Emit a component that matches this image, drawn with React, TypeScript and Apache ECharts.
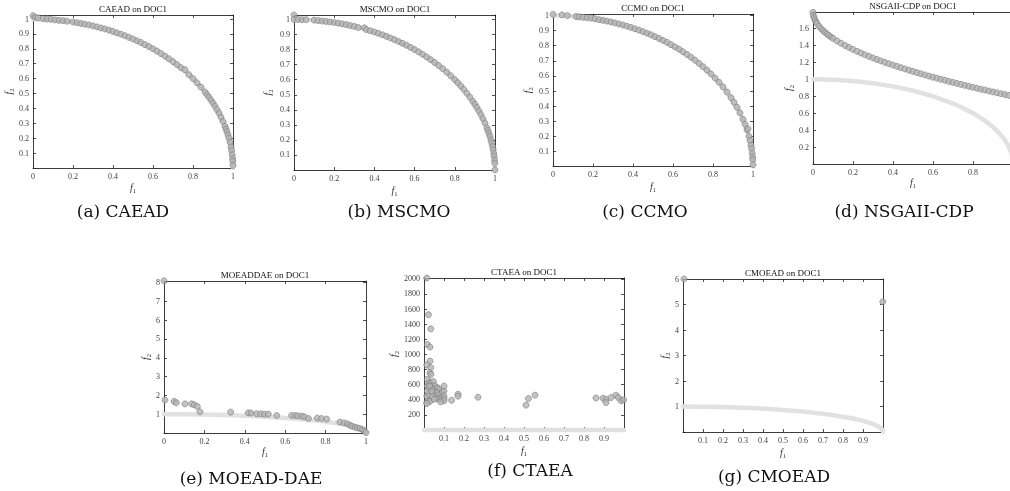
import React, { useEffect, useRef } from 'react';
import * as echarts from 'echarts';

// ---------- data ----------
const paretoFront: number[][] = [
  [0, 1], [0.1, 0.995], [0.2, 0.98], [0.3, 0.954], [0.4, 0.917], [0.5, 0.866], [0.6, 0.8],
  [0.7, 0.714], [0.75, 0.661], [0.8, 0.6], [0.85, 0.527], [0.9, 0.436], [0.93, 0.368],
  [0.95, 0.312], [0.97, 0.243], [0.98, 0.199], [0.99, 0.141], [0.995, 0.1], [0.998, 0.063], [1, 0]
];

const caeadPoints: number[][] = [
  [0, 1.022], [0.01, 1.012], [0.025, 1.008], [0.05, 1.002], [0.07, 1.0], [0.09, 0.998], [0.11, 0.994],
  [0.13, 0.991], [0.15, 0.989], [0.17, 0.985], [0.2, 0.98], [0.22, 0.975], [0.24, 0.97], [0.26, 0.965],
  [0.28, 0.96], [0.3, 0.954], [0.32, 0.947], [0.34, 0.94], [0.36, 0.933], [0.38, 0.925], [0.4, 0.917],
  [0.42, 0.907], [0.44, 0.898], [0.46, 0.888], [0.48, 0.877], [0.5, 0.866], [0.52, 0.854], [0.54, 0.842],
  [0.56, 0.828], [0.58, 0.815], [0.6, 0.8], [0.62, 0.785], [0.64, 0.768], [0.66, 0.751], [0.68, 0.733],
  [0.7, 0.714], [0.72, 0.694], [0.74, 0.673], [0.76, 0.66], [0.78, 0.626], [0.8, 0.6], [0.82, 0.572],
  [0.84, 0.543], [0.86, 0.51], [0.87, 0.493], [0.88, 0.475], [0.89, 0.456], [0.9, 0.436], [0.91, 0.415],
  [0.92, 0.392], [0.93, 0.368], [0.94, 0.341], [0.95, 0.312], [0.96, 0.28], [0.965, 0.262], [0.97, 0.243],
  [0.975, 0.222], [0.98, 0.199], [0.985, 0.173], [0.99, 0.141], [0.993, 0.118], [0.996, 0.089],
  [0.998, 0.063], [0.999, 0.045], [1, 0.018]
];

const mscmoPoints: number[][] = [
  [0, 1.03], [0, 1.0], [0.02, 1.0], [0.04, 0.999], [0.06, 0.999], [0.1, 0.996], [0.12, 0.993],
  [0.14, 0.99], [0.16, 0.987], [0.18, 0.984], [0.2, 0.98], [0.22, 0.976], [0.24, 0.971], [0.26, 0.966],
  [0.28, 0.96], [0.3, 0.954], [0.32, 0.947], [0.35, 0.945], [0.36, 0.933], [0.38, 0.925], [0.4, 0.917],
  [0.42, 0.908], [0.44, 0.898], [0.46, 0.888], [0.48, 0.877], [0.5, 0.866], [0.52, 0.854], [0.54, 0.842],
  [0.56, 0.829], [0.58, 0.815], [0.6, 0.8], [0.62, 0.785], [0.64, 0.769], [0.66, 0.751], [0.68, 0.733],
  [0.7, 0.714], [0.72, 0.694], [0.74, 0.673], [0.76, 0.65], [0.78, 0.626], [0.8, 0.6], [0.815, 0.58],
  [0.83, 0.558], [0.845, 0.535], [0.86, 0.51], [0.875, 0.484], [0.89, 0.456], [0.9, 0.436], [0.91, 0.415],
  [0.92, 0.392], [0.93, 0.368], [0.94, 0.341], [0.95, 0.312], [0.96, 0.28], [0.965, 0.262], [0.97, 0.243],
  [0.975, 0.222], [0.98, 0.199], [0.984, 0.178], [0.988, 0.155], [0.991, 0.134], [0.994, 0.11],
  [0.996, 0.09], [0.998, 0.065], [0.999, 0.045], [1, 0.0]
];

const ccmoPoints: number[][] = [
  [0, 1.007], [0.045, 1.004], [0.072, 1.0], [0.115, 0.993], [0.13, 0.991], [0.15, 0.988], [0.17, 0.985],
  [0.19, 0.982], [0.21, 0.978], [0.23, 0.973], [0.25, 0.968], [0.27, 0.963], [0.29, 0.957], [0.31, 0.951],
  [0.33, 0.944], [0.35, 0.937], [0.37, 0.929], [0.39, 0.921], [0.41, 0.912], [0.43, 0.903], [0.45, 0.893],
  [0.47, 0.883], [0.49, 0.872], [0.51, 0.86], [0.53, 0.848], [0.55, 0.835], [0.57, 0.822], [0.59, 0.807],
  [0.61, 0.792], [0.63, 0.777], [0.65, 0.76], [0.67, 0.742], [0.69, 0.724], [0.71, 0.704], [0.73, 0.683],
  [0.75, 0.661], [0.77, 0.638], [0.79, 0.613], [0.81, 0.586], [0.83, 0.558], [0.85, 0.527], [0.87, 0.493],
  [0.89, 0.456], [0.905, 0.425], [0.92, 0.392], [0.935, 0.355], [0.95, 0.312], [0.96, 0.28], [0.97, 0.243],
  [0.975, 0.25], [0.98, 0.2], [0.985, 0.173], [0.99, 0.141], [0.993, 0.118], [0.996, 0.089],
  [0.998, 0.063], [0.999, 0.045], [1, 0.013]
];

const nsgaiiCdpPoints: number[][] = [
  [0, 1.79], [0.002, 1.755], [0.005, 1.729], [0.01, 1.7], [0.015, 1.678], [0.02, 1.659], [0.03, 1.627],
  [0.04, 1.6], [0.05, 1.576], [0.06, 1.555], [0.07, 1.535], [0.08, 1.517], [0.09, 1.5], [0.1, 1.484],
  [0.12, 1.454], [0.14, 1.426], [0.16, 1.4], [0.18, 1.376], [0.2, 1.353], [0.22, 1.331], [0.24, 1.31],
  [0.26, 1.29], [0.28, 1.271], [0.3, 1.252], [0.32, 1.234], [0.34, 1.217], [0.36, 1.2], [0.38, 1.184],
  [0.4, 1.168], [0.42, 1.152], [0.44, 1.137], [0.46, 1.122], [0.48, 1.107], [0.5, 1.093], [0.52, 1.079],
  [0.54, 1.065], [0.56, 1.052], [0.58, 1.038], [0.6, 1.025], [0.62, 1.013], [0.64, 1.0], [0.66, 0.988],
  [0.68, 0.975], [0.7, 0.963], [0.72, 0.951], [0.74, 0.94], [0.76, 0.928], [0.78, 0.917], [0.8, 0.906],
  [0.82, 0.894], [0.84, 0.883], [0.86, 0.873], [0.88, 0.862], [0.9, 0.851], [0.92, 0.841], [0.94, 0.83],
  [0.96, 0.82], [0.98, 0.81]
];

const moeadDaePoints: number[][] = [
  [0, 8.09], [0.005, 1.75], [0.05, 1.68], [0.061, 1.61], [0.104, 1.55], [0.137, 1.55], [0.15, 1.5],
  [0.165, 1.41], [0.178, 1.13], [0.33, 1.11], [0.417, 1.07], [0.431, 1.06], [0.459, 1.02], [0.479, 1.02],
  [0.497, 1.0], [0.516, 1.0], [0.558, 0.93], [0.632, 0.93], [0.649, 0.93], [0.663, 0.91], [0.682, 0.9],
  [0.695, 0.86], [0.715, 0.77], [0.759, 0.79], [0.78, 0.77], [0.805, 0.74], [0.871, 0.58], [0.891, 0.54],
  [0.908, 0.49], [0.921, 0.41], [0.932, 0.36], [0.946, 0.31], [0.957, 0.27], [0.97, 0.24], [0.983, 0.18],
  [0.993, 0.11], [1, 0.02]
];

const ctaeaPoints: number[][] = [
  [0.014, 2009], [0.022, 1525], [0.034, 1337], [0.017, 1131], [0.03, 1096], [0.03, 912], [0.014, 860],
  [0.034, 825], [0.03, 758], [0.035, 735], [0.017, 670], [0.025, 626], [0.034, 620], [0.047, 640],
  [0.014, 364], [0.022, 386], [0.03, 378], [0.014, 451], [0.022, 473], [0.017, 516], [0.017, 582],
  [0.025, 560], [0.038, 582], [0.045, 551], [0.055, 582], [0.05, 538], [0.059, 516], [0.067, 560],
  [0.075, 538], [0.067, 495], [0.055, 451], [0.075, 465], [0.083, 428], [0.092, 407], [0.075, 407],
  [0.059, 415], [0.042, 441], [0.092, 505], [0.1, 516], [0.1, 582], [0.1, 451], [0.1, 415], [0.1, 386],
  [0.083, 372], [0.05, 407], [0.038, 516], [0.028, 582], [0.014, 350], [0.138, 393], [0.17, 473],
  [0.17, 447], [0.27, 433], [0.51, 328], [0.522, 415], [0.555, 460], [0.86, 424], [0.895, 420],
  [0.91, 407], [0.91, 363], [0.935, 429], [0.96, 460], [0.972, 429], [0.985, 386], [0.998, 398]
];

const cmoeadPoints: number[][] = [[0.005, 6.0], [0.999, 5.11]];

const panelData = [caeadPoints, mscmoPoints, ccmoPoints, nsgaiiCdpPoints, moeadDaePoints, ctaeaPoints, cmoeadPoints];
const panelTitles = ['CAEAD on DOC1', 'MSCMO on DOC1', 'CCMO on DOC1', 'NSGAII-CDP on DOC1', 'MOEADDAE on DOC1', 'CTAEA on DOC1', 'CMOEAD on DOC1'];
const panelCaptions = ['(a) CAEAD', '(b) MSCMO', '(c) CCMO', '(d) NSGAII-CDP', '(e) MOEAD-DAE', '(f) CTAEA', '(g) CMOEAD'];
const xStep = [0.2, 0.2, 0.2, 0.2, 0.2, 0.1, 0.1];
const xHideMin = [false, false, false, false, false, true, true];
const xHideMax = [false, false, false, true, false, true, true];
const yStep = [0.1, 0.1, 0.1, 0.2, 1, 200, 1];
const yMax = [1.027, 1.03, 1.01, 1.795, 8.08, 2010, 6];

// ---------- layout ----------
const layout = [
  { left: 33, top: 15, width: 200, height: 153, tx: 133, ty: 9, cx: 123, cy: 211, yGap: 17, xGap: 13 },
  { left: 294, top: 15, width: 201, height: 155, tx: 395, ty: 9, cx: 399, cy: 211, yGap: 20, xGap: 14 },
  { left: 553, top: 14, width: 200, height: 152.5, tx: 653, ty: 8, cx: 645, cy: 211, yGap: 19, xGap: 13 },
  { left: 813, top: 12, width: 200, height: 152, tx: 913, ty: 6, cx: 904, cy: 211, yGap: 17, xGap: 12 },
  { left: 164, top: 281, width: 202, height: 152, tx: 265, ty: 275, cx: 251, cy: 478, yGap: 10, xGap: 12 },
  { left: 424, top: 278, width: 200, height: 152, tx: 524, ty: 272, cx: 530, cy: 470, yGap: 17, xGap: 14 },
  { left: 683, top: 279, width: 200, height: 153, tx: 783, ty: 273, cx: 774, cy: 476, yGap: 12, xGap: 14 }
];

const SERIF = '"Liberation Serif", "Times New Roman", serif';
const AXIS_COLOR = '#262626';

function makeFmt(step: number, max: number, hideMin: boolean, hideMax: boolean) {
  return (v: number) => {
    const k = Math.round(v / step);
    if (Math.abs(v - k * step) > step * 1e-3) return '';
    if (hideMin && k === 0) return '';
    if (hideMax && Math.abs(v - max) < step * 1e-3) return '';
    return String(+(k * step).toFixed(3));
  };
}

const nameRich = {
  i: { fontFamily: SERIF, fontStyle: 'italic', fontSize: 10, color: '#333' },
  s: { fontFamily: SERIF, fontSize: 6.5, color: '#333', padding: [6, 0, 0, 0] }
};

function axis(gi: number, pos: string, min: number, max: number, step: number, label: boolean, fmt: any, extra: any = {}) {
  return {
    type: 'value', gridIndex: gi, position: pos, min, max, interval: step,
    axisLine: { show: true, onZero: false, lineStyle: { color: AXIS_COLOR, width: 0.9 } },
    axisTick: { show: true, inside: true, length: 3, lineStyle: { color: AXIS_COLOR, width: 0.8 } },
    splitLine: { show: false },
    axisLabel: { show: label, formatter: fmt, fontFamily: SERIF, fontSize: 8, color: '#404040', margin: 4 },
    ...extra
  };
}

export default function App() {
  const ref = useRef<HTMLDivElement>(null);
  useEffect(() => {
    if (!ref.current) return;
    const chart = echarts.init(ref.current, undefined, { renderer: 'svg' });
    const grid: any[] = [];
    const xAxis: any[] = [];
    const yAxis: any[] = [];
    const series: any[] = [];
    const graphic: any[] = [];
    layout.forEach((L, i) => {
      grid.push({ left: L.left, top: L.top, width: L.width, height: L.height, containLabel: false });
      const xf = makeFmt(xStep[i], 1, xHideMin[i], xHideMax[i]);
      const yf = makeFmt(yStep[i], yMax[i], true, false);
      xAxis.push(axis(i, 'bottom', 0, 1, xStep[i], true, xf, {
        name: '{i|f}{s|1}', nameLocation: 'middle', nameGap: L.xGap,
        nameTextStyle: { rich: nameRich }
      }));
      xAxis.push(axis(i, 'top', 0, 1, xStep[i], false, xf));
      yAxis.push(axis(i, 'left', 0, yMax[i], yStep[i], true, yf, {
        name: '{i|f}{s|2}', nameLocation: 'middle', nameGap: L.yGap,
        nameTextStyle: { rich: nameRich }
      }));
      yAxis.push(axis(i, 'right', 0, yMax[i], yStep[i], false, yf));
      series.push({
        type: 'line', xAxisIndex: 2 * i, yAxisIndex: 2 * i, data: paretoFront,
        symbol: 'none', showSymbol: false, clip: false, silent: true, z: 1,
        lineStyle: { color: '#e3e0e3', width: 4.5, cap: 'round', join: 'round' }
      });
      series.push({
        type: 'scatter', xAxisIndex: 2 * i, yAxisIndex: 2 * i, data: panelData[i],
        symbol: 'circle', symbolSize: 6, clip: false, silent: true, z: 3,
        itemStyle: { color: '#b4b4b4', borderColor: '#7c7c7c', borderWidth: 0.8 }
      });
      graphic.push({
        type: 'text', x: L.tx, y: L.ty, silent: true,
        style: { text: panelTitles[i], fontFamily: SERIF, fontSize: 9, fill: '#111', align: 'center', verticalAlign: 'middle' }
      });
      graphic.push({
        type: 'text', x: L.cx, y: L.cy, silent: true,
        style: { text: panelCaptions[i], fontFamily: '"DejaVu Serif", serif', fontSize: 17, fill: '#111', align: 'center', verticalAlign: 'middle' }
      });
    });
    chart.setOption({
      animation: false,
      backgroundColor: '#ffffff',
      grid, xAxis, yAxis, series, graphic
    });
    return () => chart.dispose();
  }, []);
  return (
    <div
      style={{ position: 'fixed', left: 0, top: 0, width: 1010, height: 491, overflow: 'hidden', background: '#fff', filter: 'grayscale(100%)' }}
    >
      <div ref={ref} style={{ position: 'absolute', left: 0, top: 0, width: 1040, height: 491 }} />
    </div>
  );
}
